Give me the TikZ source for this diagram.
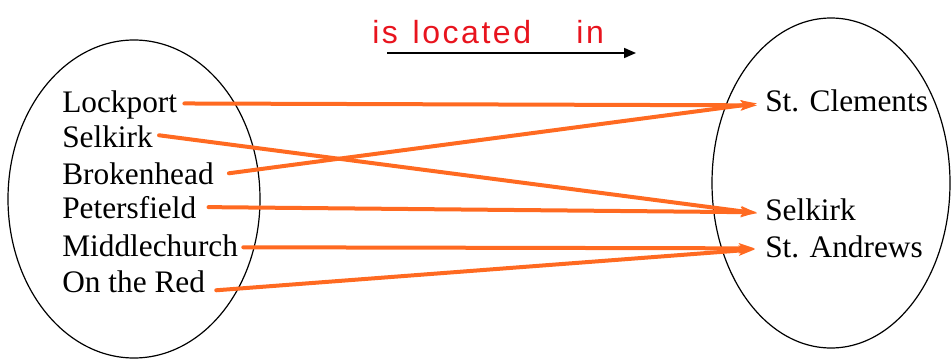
\documentclass[tikz,border=0pt]{standalone}
\usepackage{fontspec}
\setmainfont{Liberation Serif}
\newfontfamily\handfont[LetterSpace=8]{Liberation Sans}
\usetikzlibrary{arrows.meta,calc}
\definecolor{arrorange}{RGB}{255,106,33}
\definecolor{inkred}{RGB}{232,20,30}
\tikzset{
  set/.style={draw=black, line width=0.9pt},
  item/.style={anchor=base west, inner sep=0pt, font=\fontsize{23.5}{28}\selectfont},
  maparrow/.style={draw=arrorange, line width=3pt, line cap=round,
     -{Stealth[length=12pt,width=7.5pt,inset=2.5pt]}},
  relarrow/.style={draw=black, line width=1.3pt, -{Triangle[length=9pt,width=7.5pt]}},
  relabel/.style={anchor=base west, inner sep=0pt, text=inkred,
     font=\handfont\fontsize{24}{28}\selectfont}
}
\begin{document}
\begin{tikzpicture}[x=0.75pt,y=-0.75pt]
\useasboundingbox (0,0) rectangle (952,360);
% sets
\draw[set] (134,199) ellipse [x radius=126, y radius=159];
\draw[set] (831,183) ellipse [x radius=119, y radius=165];
% left items
\node[item] (lock) at (62,112) {Lockport};
\node[item] (selL) at (62,147) {Selkirk};
\node[item] (brok) at (62,184) {Brokenhead};
\node[item] (pete) at (62,218) {Petersfield};
\node[item] (midd) at (62,256) {Middlechurch};
\node[item] (ontr) at (62,292) {On the Red};
% right items
\node[item] (stc) at (765,111) {St. Clements};
\node[item] (selR) at (765,220) {Selkirk};
\node[item] (sta) at (765,257) {St. Andrews};
% relation label
\node[relabel] (rel) at (372,44) {is\hspace{11pt}located\hspace{34pt}in};
\coordinate (relS) at (387,53);
\coordinate (relE) at (636,53);
\draw[relarrow] (relS) -- (relE);
% mapping arrows
\draw[maparrow] ($(lock.east)+(7,-1)$) -- ($(stc.west)+(-8,5)$);
\draw[maparrow] ($(selL.east)+(6,-1)$) -- ($(selR.west)+(-8,4)$);
\draw[maparrow] ($(brok.east)+(15,0)$) -- ($(stc.west)+(-8,3)$);
\draw[maparrow] ($(pete.east)+(12,0)$) -- ($(selR.west)+(-8,3)$);
\draw[maparrow] ($(midd.east)+(5,2)$) -- ($(sta.west)+(-10,2)$);
\draw[maparrow] ($(ontr.east)+(11,9)$) -- ($(sta.west)+(-10,3)$);
\end{tikzpicture}
\end{document}
